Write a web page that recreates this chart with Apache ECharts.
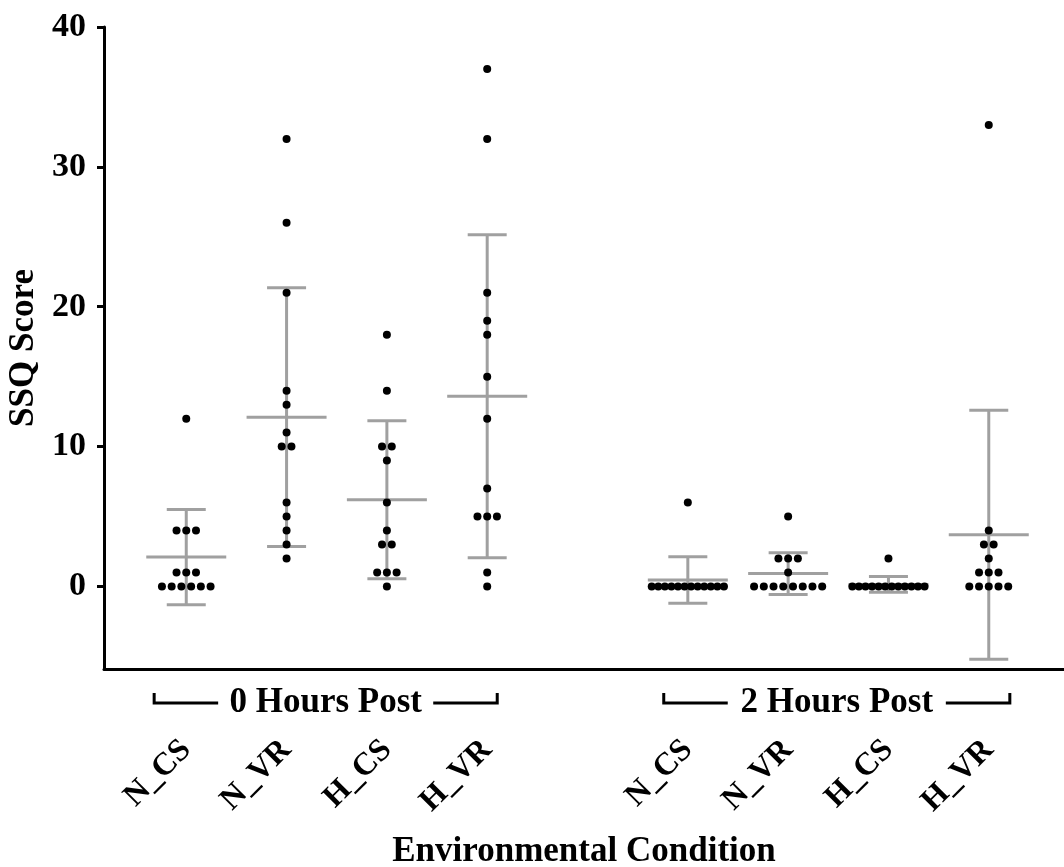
<!DOCTYPE html>
<html>
<head>
<meta charset="utf-8">
<script src="https://cdn.jsdelivr.net/npm/echarts@6/dist/echarts.min.js"></script>
<style>
html, body { margin: 0; padding: 0; background: #fff; }
#chart { width: 1064px; height: 867px; }
</style>
</head>
<body>
<div id="chart"></div>
<script>
// group slots on the x axis (slot 5 left empty between the two time points)
const groupPos = [1, 2, 3, 4, 6, 7, 8, 9]
const groupNames = ['N_CS', 'N_VR', 'H_CS', 'H_VR', 'N_CS', 'N_VR', 'H_CS', 'H_VR']

// individual SSQ scores, 0 hours post
const n_cs_0h = [12, 4, 4, 4, 1, 1, 1, 0, 0, 0, 0, 0, 0]
const n_vr_0h = [32, 26, 21, 14, 13, 11, 10, 10, 6, 5, 4, 3, 2]
const h_cs_0h = [18, 14, 10, 10, 9, 6, 4, 3, 3, 1, 1, 1, 0]
const h_vr_0h = [37, 32, 21, 19, 18, 15, 12, 7, 5, 5, 5, 1, 0]
// individual SSQ scores, 2 hours post
const n_cs_2h = [6, 0, 0, 0, 0, 0, 0, 0, 0, 0, 0, 0, 0]
const n_vr_2h = [5, 2, 2, 2, 1, 0, 0, 0, 0, 0, 0, 0, 0]
const h_cs_2h = [2, 0, 0, 0, 0, 0, 0, 0, 0, 0, 0, 0, 0]
const h_vr_2h = [33, 4, 3, 3, 2, 1, 1, 1, 0, 0, 0, 0, 0]

// mean and SD as drawn by the grey bars
const groupMean = [2.1, 12.1, 6.2, 13.6, 0.46, 0.92, 0.15, 3.7]
const groupSD = [3.4, 9.25, 5.65, 11.55, 1.66, 1.49, 0.56, 8.9]

const yTicks = [0, 10, 20, 30, 40]

// brackets under the axis
const bracketNames = ['0 Hours Post', '2 Hours Post']
const bracketFrom = [0.68, 5.76]
const bracketTo = [4.1, 9.21]

const yMin = -5.9
const yMax = 40
const fontFamily = '"Liberation Serif", "Times New Roman", serif'
const barColor = '#a0a0a0'

const groupScores = [n_cs_0h, n_vr_0h, h_cs_0h, h_vr_0h, n_cs_2h, n_vr_2h, h_cs_2h, h_vr_2h]

// spread tied scores sideways like a dot plot
const dotGap = 0.097
const maxSpan = 0.72
const dots = []
groupScores.forEach((scores, g) => {
    const counts = {}
    scores.forEach(v => { counts[v] = (counts[v] || 0) + 1 })
    Object.keys(counts).forEach(k => {
        const n = counts[k]
        const step = n > 1 ? Math.min(dotGap, maxSpan / (n - 1)) : 0
        for (let i = 0; i < n; i++) {
            dots.push([groupPos[g] + (i - (n - 1) / 2) * step, Number(k)])
        }
    })
})

const barData = groupPos.map((p, i) => [p, groupMean[i], groupSD[i]])
const bracketData = bracketNames.map((name, i) => [bracketFrom[i], bracketTo[i]])

const myChart = echarts.init(document.getElementById('chart'))

const option = {
    animation: false,
    backgroundColor: '#fff',
    grid: {
        left: 104,
        right: 0,
        top: 27,
        bottom: 198,
        outerBoundsMode: 'none'
    },
    xAxis: {
        type: 'value',
        min: 0.18,
        max: 9.75,
        name: 'Environmental Condition',
        nameLocation: 'middle',
        nameGap: 165,
        nameTextStyle: {
            color: '#000',
            fontFamily: fontFamily,
            fontWeight: 'bold',
            fontSize: 35
        },
        axisLine: {
            show: true,
            onZero: false,
            lineStyle: { color: '#000', width: 3 }
        },
        axisTick: { show: false },
        splitLine: { show: false },
        axisLabel: {
            customValues: groupPos,
            rotate: 45,
            margin: 76,
            color: '#000',
            fontFamily: fontFamily,
            fontWeight: 'bold',
            fontSize: 32,
            formatter: v => groupNames[groupPos.indexOf(v)] || ''
        }
    },
    yAxis: {
        type: 'value',
        min: yMin,
        max: yMax,
        name: 'SSQ Score',
        nameLocation: 'middle',
        nameGap: 62,
        nameTextStyle: {
            color: '#000',
            fontFamily: fontFamily,
            fontWeight: 'bold',
            fontSize: 35
        },
        axisLine: {
            show: true,
            onZero: false,
            lineStyle: { color: '#000', width: 3 }
        },
        axisTick: {
            show: true,
            customValues: yTicks,
            length: 7,
            lineStyle: { color: '#000', width: 3 }
        },
        axisLabel: {
            customValues: yTicks,
            margin: 18,
            color: '#000',
            fontFamily: fontFamily,
            fontWeight: 'bold',
            fontSize: 34
        },
        splitLine: { show: false }
    },
    series: [
        {
            // mean +- SD
            type: 'custom',
            z: 2,
            clip: false,
            data: barData,
            renderItem: (params, api) => {
                const mid = api.coord([api.value(0), api.value(1)])
                const top = api.coord([api.value(0), api.value(1) + api.value(2)])
                const bot = api.coord([api.value(0), api.value(1) - api.value(2)])
                const style = { stroke: barColor, lineWidth: 3 }
                const x = mid[0]
                return {
                    type: 'group',
                    children: [
                        { type: 'line', shape: { x1: x, y1: top[1], x2: x, y2: bot[1] }, style },
                        { type: 'line', shape: { x1: x - 19.5, y1: top[1], x2: x + 19.5, y2: top[1] }, style },
                        { type: 'line', shape: { x1: x - 19.5, y1: bot[1], x2: x + 19.5, y2: bot[1] }, style },
                        { type: 'line', shape: { x1: x - 40, y1: mid[1], x2: x + 40, y2: mid[1] }, style }
                    ]
                }
            }
        },
        {
            type: 'scatter',
            z: 3,
            symbol: 'circle',
            symbolSize: 8,
            itemStyle: { color: '#000', opacity: 1 },
            data: dots
        },
        {
            // time point brackets below the axis
            type: 'custom',
            z: 3,
            clip: false,
            silent: true,
            data: bracketData,
            renderItem: (params, api) => {
                const a = api.coord([api.value(0), yMin])
                const b = api.coord([api.value(1), yMin])
                const y = a[1] + 34
                const seg = 64
                const style = { stroke: '#000', lineWidth: 3, fill: null }
                return {
                    type: 'group',
                    children: [
                        { type: 'polyline', shape: { points: [[a[0], y - 10], [a[0], y], [a[0] + seg, y]] }, style },
                        { type: 'polyline', shape: { points: [[b[0] - seg, y], [b[0], y], [b[0], y - 10]] }, style },
                        {
                            type: 'text',
                            x: (a[0] + b[0]) / 2,
                            y: y,
                            style: {
                                text: bracketNames[params.dataIndex],
                                fill: '#000',
                                fontFamily: fontFamily,
                                fontWeight: 'bold',
                                fontSize: 35,
                                align: 'center',
                                verticalAlign: 'middle'
                            }
                        }
                    ]
                }
            }
        }
    ]
}
myChart.setOption(option)
</script>
</body>
</html>
